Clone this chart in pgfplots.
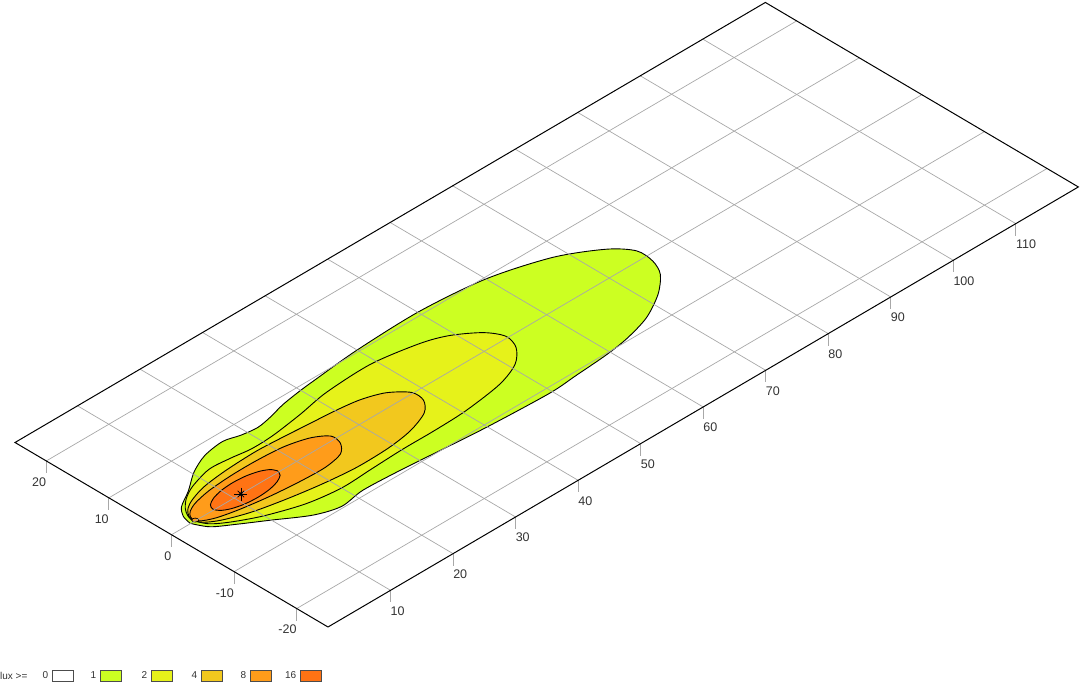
\documentclass[border=0pt]{standalone}
\usepackage{pgfplots}
\usepackage{pgfplotstable}
\pgfplotsset{compat=1.18}
\usepackage{fontspec}
\setmainfont{Liberation Sans}
\definecolor{cA}{HTML}{CCFF22}
\definecolor{cB}{HTML}{E6F21A}
\definecolor{cC}{HTML}{F2C81E}
\definecolor{cD}{HTML}{FF9C1A}
\definecolor{cE}{HTML}{FF7314}
\definecolor{gridc}{HTML}{A8A8A8}
\definecolor{txt}{HTML}{333333}
\tikzset{
  contour/.style={draw=black, line width=0.9pt, smooth, tension=0.5},
  gridline/.style={draw=gridc, line width=0.7pt},
  tickline/.style={draw=gridc, line width=0.8pt},
  ticklab/.style={inner sep=0pt, text=txt, font=\fontsize{12.5}{14}\selectfont},
}

\pgfplotstableread{
x y z
3.05 0.05 0
3.42 1.49 0
4.6 3.0 0
7.3 4.6 0
10.3 6.7 0
13.4 8.1 0
16.77 8.6 0
19.08 8.0 0
21.49 7.7 0
23.89 8.1 0
26.6 8.8 0
29.78 9.3 0
32.5 9.6 0
39.9 10.3 0
50.2 10.6 0
60.0 9.7 0
68.3 7.3 0
73.7 4.14 0
75.9 1.5 0
75.8 -1.17 0
74.6 -3.57 0
71.7 -6.1 0
67.6 -8.35 0
63.3 -9.6 0
59.4 -10.2 0
54.05 -10.6 0
49.5 -10.9 0
39.9 -10.5 0
32.0 -9.87 0
27.1 -9.47 0
21.4 -9.2 0
17.5 -9.7 0
14.0 -8.6 0
9.9 -5.9 0
6.7 -3.8 0
4.19 -2.0 0
3.05 0.05 0
}\lvlA

\pgfplotstableread{
x y z
3.6 0.3 0
3.9 1.3 0
4.7 2.5 0
6.2 3.8 0
8.3 4.9 0
11.9 5.9 0
15.1 5.7 0
18.1 5.3 0
21.6 5.4 0
26.7 6.1 0
31.8 7.0 0
39.2 7.3 0
45.9 6.2 0
49.4 4.9 0
52.5 2.6 0
53.8 0.3 0
53.1 -2.0 0
50.75 -4.2 0
46.8 -5.7 0
40.5 -6.6 0
35.2 -6.8 0
30.2 -6.8 0
25 -7.0 0
20 -7.2 0
15 -6.5 0
10 -4.8 0
6.5 -3.0 0
4.5 -1.5 0
3.6 0.3 0
}\lvlB

\pgfplotstableread{
x y z
3.7 0.3 0
3.9 1.1 0
4.7 2.1 0
6.2 3.0 0
9 3.9 0
13 4.4 0
18 4.6 0
22 4.4 0
26 4.1 0
30 3.8 0
33.5 3.3 0
36.5 2.2 0
38.6 0.2 0
38.5 -1.8 0
36.8 -3.6 0
33.3 -4.9 0
29.2 -5.5 0
24 -5.6 0
18.9 -5.1 0
14 -4.3 0
9.5 -3.3 0
6 -2.0 0
4.2 -0.8 0
3.7 0.3 0
}\lvlC

\pgfplotstableread{
x y z
3.75 0.3 0
4.0 1.0 0
4.7 1.7 0
6.2 2.4 0
9 3.0 0
13 3.3 0
17 3.3 0
21 3.0 0
24.3 2.1 0
26.2 0.7 0
26.0 -1.0 0
24.5 -2.5 0
21.5 -3.1 0
17.5 -3.0 0
13 -2.6 0
9 -2.0 0
6 -1.3 0
4.3 -0.5 0
3.75 0.3 0
}\lvlD

\pgfplotstableread{
x y z
17.2 0.2 0
16.8 0.97 0
15.68 1.61 0
13.99 2.05 0
12 2.2 0
10.01 2.05 0
8.32 1.61 0
7.2 0.97 0
6.8 0.2 0
7.2 -0.57 0
8.32 -1.21 0
10.01 -1.65 0
12 -1.8 0
13.99 -1.65 0
15.68 -1.21 0
16.8 -0.57 0
17.2 0.2 0
}\lvlE

\pgfplotstableread{
x y z
4.18 -0.18 0
4.29 0.09 0
4.17 0.37 0
3.89 0.49 0
3.62 0.38 0
3.51 0.11 0
3.63 -0.17 0
3.91 -0.29 0
4.18 -0.18 0
}\lvlF

\begin{document}
\begin{tikzpicture}
\useasboundingbox (0,0) rectangle (1080pt,683pt);
\begin{axis}[
  at={(171.5pt,148.25pt)}, anchor=origin,
  x={(6.253pt,3.667pt)}, y={(-6.26pt,3.69pt)}, z={(0pt,1pt)},
  xmin=0, xmax=120, ymin=-25, ymax=25, zmin=-20, zmax=5,
  hide axis, clip=false,
]
\addplot3[contour, fill=cA] table[x=x, y=y, z=z] {\lvlA};
\addplot3[contour, fill=cB] table[x=x, y=y, z=z] {\lvlB};
\addplot3[contour, fill=cC] table[x=x, y=y, z=z] {\lvlC};
\addplot3[contour, fill=cD] table[x=x, y=y, z=z] {\lvlD};
\addplot3[contour, fill=cE] table[x=x, y=y, z=z] {\lvlE};
\addplot3[contour, fill=cD, line width=0.7pt] table[x=x, y=y, z=z] {\lvlF};
% grid
\pgfplotsinvokeforeach{10,20,...,110}{
  \addplot3[gridline] coordinates {(#1,-25,0) (#1,25,0)};
  \addplot3[tickline] coordinates {(#1,-25,0) (#1,-25,-12)};
  \node[ticklab, anchor=north west] at (axis cs:#1,-25,-16) {#1};
}
\pgfplotsinvokeforeach{-20,-10,0,10,20}{
  \addplot3[gridline] coordinates {(0,#1,0) (120,#1,0)};
  \addplot3[tickline] coordinates {(0,#1,0) (0,#1,-12)};
  \node[ticklab, anchor=north east] at (axis cs:0,#1,-16.5) {#1};
}
% border
\addplot3[draw=black, line width=1pt] coordinates {(0,-25,0) (120,-25,0) (120,25,0) (0,25,0) (0,-25,0)};
% maximum marker
\addplot3[only marks, mark=+, mark size=6.5pt, black, line width=0.7pt] coordinates {(11.1,0,0)};
\addplot3[only marks, mark=x, mark size=4.6pt, black, line width=0.7pt] coordinates {(11.1,0,0)};
\addplot3[only marks, mark=*, mark size=1.6pt, black] coordinates {(11.1,0,0)};
\end{axis}
% legend
\begin{scope}[font=\fontsize{10}{12}\selectfont, text=txt]
\node[anchor=west, inner sep=0pt] at (0pt,7.5pt) {lux >=};
\foreach \lab/\xl/\col in {0/52/white, 1/100/cA, 2/151/cB, 4/201/cC, 8/250/cD, 16/300/cE}{
  \draw[fill=\col, draw=black!70, line width=0.9pt] (\xl pt,2pt) rectangle ++(21.5pt,11pt);
  \node[anchor=east, inner sep=0pt, xshift=-3.5pt] at (\xl pt,7.5pt) {\lab};
}
\end{scope}
\end{tikzpicture}
\end{document}
